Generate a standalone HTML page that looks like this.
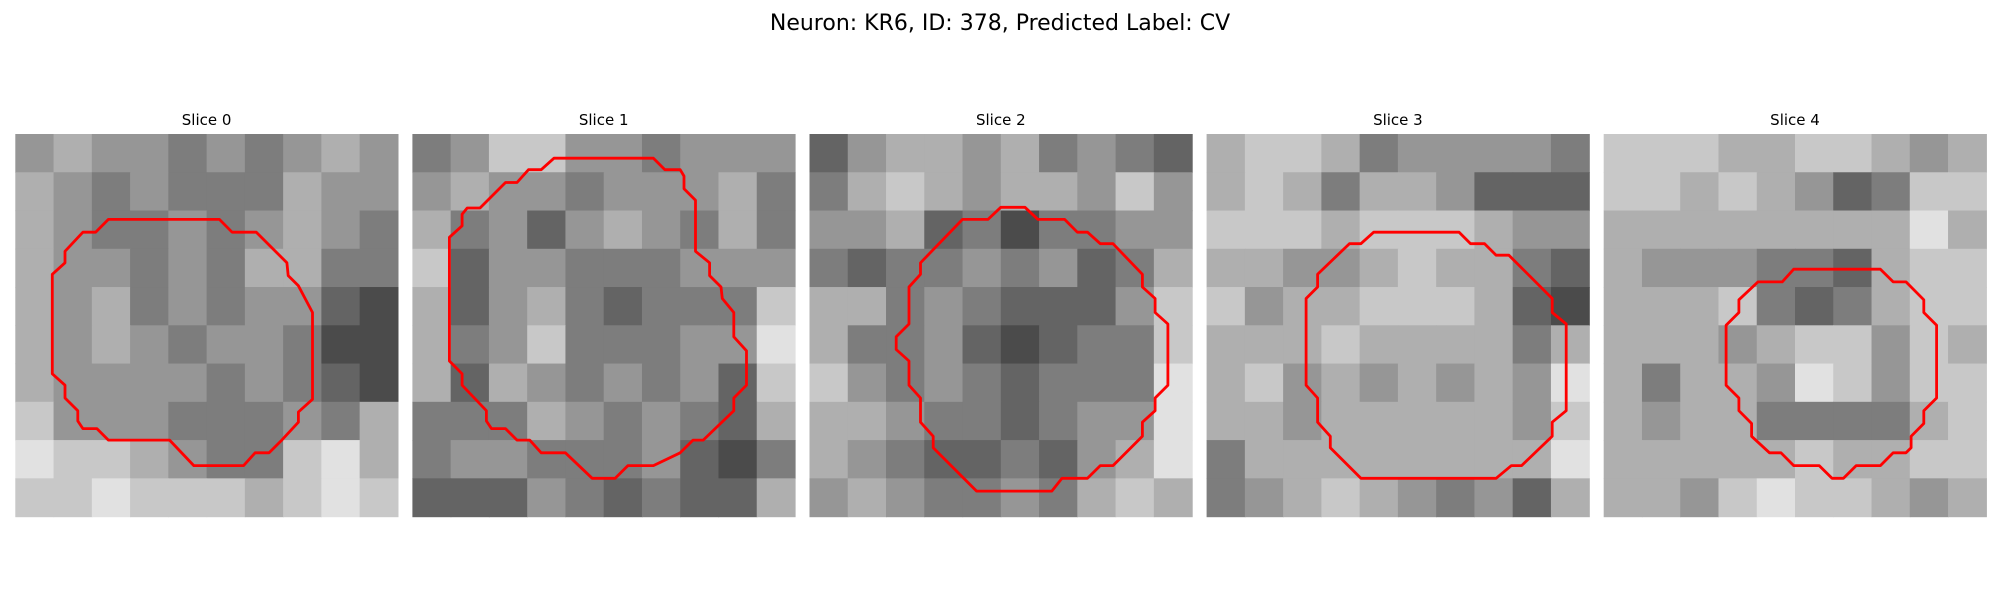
<!DOCTYPE html>
<html><head><meta charset="utf-8"><style>
html,body{margin:0;padding:0;background:#fff;}
svg{display:block;font-family:"DejaVu Sans","Liberation Sans",sans-serif;}
</style></head><body>
<svg id="fig" width="2000" height="600" viewBox="0 0 2000 600" xmlns="http://www.w3.org/2000/svg">
<text x="1000" y="30" text-anchor="middle" font-size="22" fill="#000">Neuron: KR6, ID: 378, Predicted Label: CV</text>
</svg>
<script>
const sliceTitles = ["Slice 0","Slice 1","Slice 2","Slice 3","Slice 4"];
const intensity0 = ["5655454565","6545444655","6544545654","6554546644","6564545532","6565455422","6555545432","7555444546","8776544786","7787776787"];
const intensity1 = ["4577554555","5655455564","6453565464","7355444555","6356434447","6457444558","6365454537","4446545436","4554445324","3335434336"];
const intensity2 = ["3566564543","4676566575","5563424455","4344545346","6645433357","6445323447","7545434448","6654434558","6543343568","5654454676"];
const intensity3 = ["6776455554","6764665333","7776777655","6655676643","7566777632","6667666646","6756565658","6656666657","4666666668","4567654536"];
const intensity4 = ["7776677656","7767653477","6666666686","6555443677","6667434677","6665677576","6466587577","6566444467","6666676677","6657877656"];
const contour0 = [[7.3,6.7],[16,6.7],[17,7.7],[18.9,7.7],[21.3,10.1],[21.4,11.1],[22.2,11.9],[23.3,14],[23.3,20.8],[22.2,21.8],[22.2,22.6],[20.9,24],[19.9,25],[18.8,25],[17.9,26],[14,26],[12.1,24],[7.3,24],[6.4,23.1],[5.3,23.1],[4.9,22.5],[4.9,21.7],[3.9,20.7],[3.9,19.7],[2.9,18.8],[2.9,11],[3.9,10.1],[3.9,9.2],[5.3,7.7],[6.3,7.7]];
const contour1 = [[11.1,1.9],[18.9,1.9],[19.8,2.8],[21,2.8],[21.3,3.3],[21.3,4.3],[22.2,5.2],[22.2,9.2],[23.3,10.1],[23.3,11.1],[24.2,12],[24.3,12.9],[25.2,14],[25.2,15.9],[26.2,17],[26.2,19.7],[25.2,20.7],[25.2,21.7],[22.8,24],[22,24],[21,25],[18.9,26],[16.9,26],[15.9,27],[14.1,27],[12,25],[10.1,25],[9.2,24],[8.2,24],[7.3,23.1],[6.2,23.1],[5.8,22.5],[5.8,21.7],[3.9,19.7],[3.9,18.8],[2.9,17.8],[2.9,8.1],[3.9,7.2],[3.9,6.3],[4.3,5.8],[5.3,5.8],[7.3,3.8],[8.2,3.8],[9.1,2.8],[10.1,2.8]];
const contour2 = [[15,5.75],[16.9,5.75],[17.9,6.7],[20,6.7],[21,7.7],[21.8,7.7],[22.8,8.6],[23.8,8.6],[26.1,11],[26.1,12],[27.1,12.9],[27.1,14],[28.1,14.9],[28.1,19.7],[27.1,20.7],[27.1,21.7],[26.1,22.6],[26.1,23.7],[23.8,26],[22.8,26],[21.8,27],[19.8,27],[19,28],[13.1,28],[9.7,24.6],[9.7,23.7],[8.7,22.6],[8.7,20.7],[7.8,19.7],[7.8,17.8],[6.8,16.9],[6.8,15.9],[7.8,14.9],[7.8,12],[8.7,11],[8.7,10.1],[12,6.7],[14,6.7]];
const contour3 = [[13.1,7.7],[19.8,7.7],[20.7,8.6],[21.8,8.6],[22.7,9.5],[23.7,9.5],[27.1,12.9],[27.1,14],[28.2,14.9],[28.2,21.7],[27.1,22.6],[27.1,23.7],[24.7,26],[23.9,26],[22.7,27],[12.1,27],[9.7,24.6],[9.7,23.7],[8.7,22.6],[8.7,20.7],[7.8,19.7],[7.8,12.9],[8.7,12],[8.7,11],[11.2,8.6],[12.1,8.6]];
const contour4 = [[14.9,10.6],[21.7,10.6],[22.7,11.6],[23.7,11.6],[25.1,13],[25.1,14],[26.1,15],[26.1,20.7],[25.1,21.7],[25.1,22.7],[24.1,23.7],[24.1,24.6],[23.7,25],[22.7,25],[21.7,26],[19.8,26],[18.8,27],[17.9,27],[16.9,26],[14.9,26],[13.9,25],[13,25],[11.6,23.7],[11.6,22.7],[10.6,21.7],[10.6,20.7],[9.6,19.7],[9.6,15],[10.6,14],[10.6,13],[12.1,11.6],[14,11.6]];

const intensities=[intensity0,intensity1,intensity2,intensity3,intensity4];
const contours=[contour0,contour1,contour2,contour3,contour4];
const NS="http://www.w3.org/2000/svg";
const svg=document.getElementById('fig');
const P0=15.3, STEP=397.1, PW=382.6, PT=134, GRID=30;
function px(i,c){return P0+i*STEP+c/GRID*PW;}
function py(r){return PT+r/GRID*PW;}
function gray(d){const v=Math.round(25+d*25);return `rgb(${v},${v},${v})`;}
for(let i=0;i<5;i++){
  const g=document.createElementNS(NS,'g');
  
  
  svg.appendChild(g);
  const t=document.createElementNS(NS,'text');
  
  
  t.setAttribute('x',P0+i*STEP+PW/2);t.setAttribute('y',125);
  t.setAttribute('text-anchor','middle');t.setAttribute('font-size','15');
  t.textContent=sliceTitles[i];g.appendChild(t);
  const rows=intensities[i];const n=rows.length;
  for(let r=0;r<n;r++){for(let c=0;c<rows[r].length;c++){
    const cell=document.createElementNS(NS,'rect');
    
    
    const x0=px(i,c*GRID/n), x1=px(i,(c+1)*GRID/n), y0=py(r*GRID/n), y1=py((r+1)*GRID/n);
    cell.setAttribute('x',x0);cell.setAttribute('y',y0);
    cell.setAttribute('width',x1-x0+0.6);cell.setAttribute('height',y1-y0+0.6);
    cell.setAttribute('fill',gray(+rows[r][c]));
    g.appendChild(cell);
  }}
  const poly=document.createElementNS(NS,'polygon');
  
  
  poly.setAttribute('points',contours[i].map(p=>px(i,p[0]).toFixed(1)+','+py(p[1]).toFixed(1)).join(' '));
  poly.setAttribute('fill','none');poly.setAttribute('stroke','#ff0000');poly.setAttribute('stroke-width','2.8');
  poly.setAttribute('stroke-linejoin','round');
  g.appendChild(poly);
}
</script>
</body></html>
